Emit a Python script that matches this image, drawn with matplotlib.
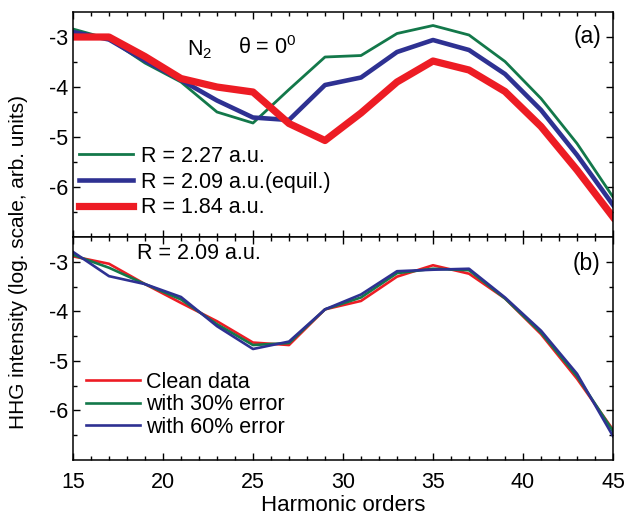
import numpy as np
import matplotlib
matplotlib.use('Agg')
from matplotlib import pyplot as plt

plt.rcParams['font.family'] = ['Liberation Sans', 'DejaVu Sans']
plt.rcParams['axes.unicode_minus'] = False
plt.rcParams['mathtext.fontset'] = 'custom'
plt.rcParams['mathtext.rm'] = 'Liberation Sans'
plt.rcParams['mathtext.it'] = 'Liberation Sans'

orders = np.arange(15, 46, 2)

# panel (a): different internuclear distances
r227 = [-2.84, -3.04, -3.52, -3.90, -4.50, -4.72, -4.05, -3.40,
        -3.37, -2.93, -2.77, -2.96, -3.49, -4.23, -5.13, -6.20]
r209 = [-2.90, -3.05, -3.47, -3.86, -4.27, -4.61, -4.66, -3.96,
        -3.81, -3.30, -3.06, -3.26, -3.74, -4.46, -5.36, -6.36]
r184 = [-3.00, -3.00, -3.39, -3.83, -4.00, -4.10, -4.73, -5.07,
        -4.52, -3.90, -3.48, -3.66, -4.09, -4.79, -5.66, -6.60]

# panel (b): R = 2.09 a.u. with noise
clean = [-2.89, -3.04, -3.45, -3.83, -4.20, -4.63, -4.68, -3.96,
         -3.79, -3.30, -3.07, -3.24, -3.74, -4.46, -5.36, -6.39]
err30 = [-2.86, -3.12, -3.45, -3.76, -4.26, -4.68, -4.64, -3.96,
         -3.72, -3.23, -3.14, -3.17, -3.74, -4.43, -5.31, -6.42]
err60 = [-2.80, -3.29, -3.45, -3.71, -4.30, -4.76, -4.61, -3.96,
         -3.66, -3.19, -3.16, -3.14, -3.72, -4.39, -5.26, -6.52]

GREEN = '#13784a'
BLUE = '#2e3192'
RED = '#ed1c24'
FS = 15.5

fig = plt.figure(figsize=(6.27, 5.2), dpi=100)
ax1 = fig.add_axes([0.1164, 0.5442, 0.8613, 0.4327])
ax2 = fig.add_axes([0.1164, 0.1154, 0.8613, 0.4288])

ax1.plot(orders, r227, color=GREEN, lw=2.0, label='R = 2.27 a.u.')
ax1.plot(orders, r209, color=BLUE, lw=3.3, label='R = 2.09 a.u.(equil.)')
ax1.plot(orders, r184, color=RED, lw=5.2, label='R = 1.84 a.u.')

ax2.plot(orders, clean, color=RED, lw=1.9, label='Clean data')
ax2.plot(orders, err30, color=GREEN, lw=1.9, label='with 30% error')
ax2.plot(orders, err60, color=BLUE, lw=1.9, label='with 60% error')

for ax in (ax1, ax2):
    ax.set_xlim(15, 45)
    ax.set_ylim(-7, -2.5)
    ax.set_yticks([-6, -5, -4, -3])
    ax.set_yticks(np.arange(-6.5, -2.5, 0.5), minor=True)
    ax.set_xticks(range(15, 46, 5))
    ax.set_xticks(range(15, 46, 1), minor=True)
    ax.tick_params(which='both', direction='in', top=True, right=True,
                   width=1.0, labelsize=FS)
    ax.tick_params(which='major', length=5)
    ax.tick_params(which='minor', length=3)
    ax.tick_params(axis='x', pad=9)
    for s in ax.spines.values():
        s.set_linewidth(1.1)

ax1.tick_params(labelbottom=False)
fig.text(0.547, 0.027, 'Harmonic orders', ha='center', va='center',
         fontsize=16)
fig.text(0.029, 0.496, 'HHG intensity (log. scale, arb. units)', rotation=90,
         ha='center', va='center', fontsize=15)

ax1.text(0.952, 0.889, '(a)', transform=ax1.transAxes, fontsize=FS + 1,
         ha='center', va='center')
ax2.text(0.95, 0.879, '(b)', transform=ax2.transAxes, fontsize=FS + 1,
         ha='center', va='center')
ax1.text(0.211, 0.831, r'N$_2$', transform=ax1.transAxes,
         fontsize=FS, ha='left', va='center')
ax1.text(0.306, 0.84, '\u03b8 = 0$^0$', transform=ax1.transAxes,
         fontsize=FS, ha='left', va='center')
ax2.text(0.119, 0.928, 'R = 2.09 a.u.', transform=ax2.transAxes,
         fontsize=FS, ha='left', va='center')

ax1.legend(loc='lower left', bbox_to_anchor=(-0.005, 0.045),
           frameon=False, fontsize=FS, handlelength=2.5,
           handletextpad=0.38, labelspacing=0.22, borderaxespad=0)
ax2.legend(loc='lower left', bbox_to_anchor=(0.008, 0.06),
           frameon=False, fontsize=FS, handlelength=2.5,
           handletextpad=0.3, labelspacing=0.07, borderaxespad=0)

fig.savefig('out.png', dpi=100)
